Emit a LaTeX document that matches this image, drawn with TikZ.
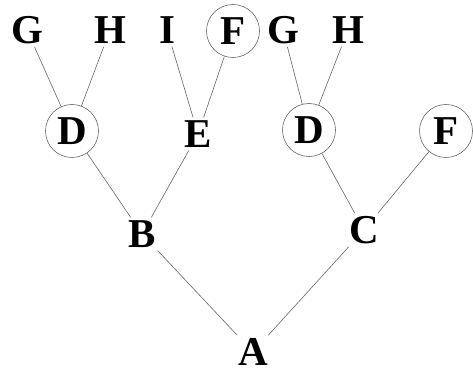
\documentclass[tikz,border=0pt]{standalone}
\usepackage{fontspec}
\setmainfont{Liberation Serif}
\usetikzlibrary{positioning}

\begin{document}
\begin{tikzpicture}[x=1pt,y=-1pt,
    letter/.style={font=\bfseries\fontsize{41}{41}\selectfont, inner sep=3pt},
    ring/.style={letter, circle, draw=gray!80!black, line width=0.6pt, minimum size=53pt, inner sep=0pt},
    branch/.style={draw=gray!80!black, line width=0.6pt}]
\useasboundingbox (0,0) rectangle (473,371);

% leaves
\node[letter] (G1) at (27,30) {G};
\node[letter] (H1) at (110,30) {H};
\node[letter] (I) at (167,30) {I};
\node[ring] (F1) at (233,31) {F};
\node[letter] (G2) at (283,30) {G};
\node[letter] (H2) at (348,30) {H};

% middle row
\node[ring] (D1) at (72,131) {D};
\node[letter] (E) at (198,134) {E};
\node[ring] (D2) at (309,130) {D};
\node[ring] (F2) at (446,131) {F};

\node[letter] (B) at (142,234) {B};
\node[letter] (C) at (364,230) {C};
\node[letter] (A) at (253,352) {A};

\draw[branch] (G1) -- (D1);
\draw[branch] (H1) -- (D1);
\draw[branch] (I) -- (E);
\draw[branch] (F1) -- (E);
\draw[branch] (G2) -- (D2);
\draw[branch] (H2) -- (D2);

\draw[branch] (D1) -- (B);
\draw[branch] (E) -- (B);
\draw[branch] (D2) -- (C);
\draw[branch] (F2) -- (C);

\draw[branch] (B) -- (A);
\draw[branch] (C) -- (A);
\end{tikzpicture}
\end{document}
